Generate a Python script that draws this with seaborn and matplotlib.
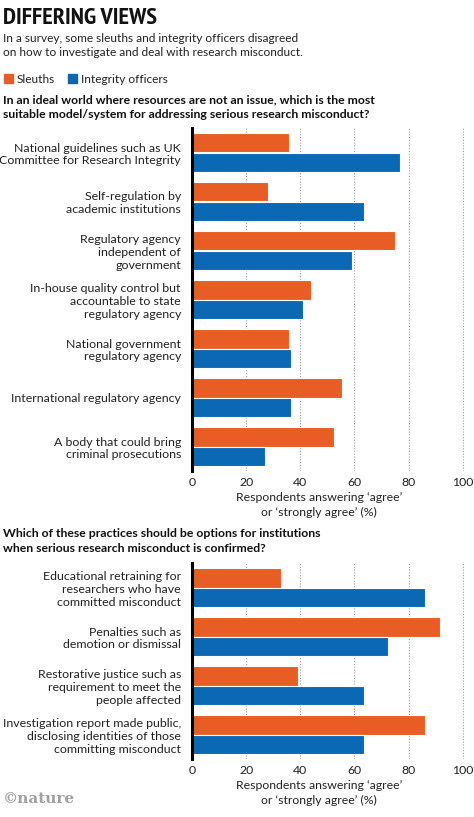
import pandas as pd
import matplotlib.pyplot as plt
import seaborn as sns
from matplotlib import font_manager

# data
q1_labels = [
    'National guidelines such as UK\nCommittee for Research Integrity',
    'Self-regulation by\nacademic institutions',
    'Regulatory agency\nindependent of\ngovernment',
    'In-house quality control but\naccountable to state\nregulatory agency',
    'National government\nregulatory agency',
    'International regulatory agency',
    'A body that could bring\ncriminal prosecutions',
]
q1_sleuths = [36, 28, 75, 44, 36, 55.5, 52.5]
q1_officers = [77, 63.5, 59, 41, 36.5, 36.5, 27]

q2_labels = [
    'Educational retraining for\nresearchers who have\ncommitted misconduct',
    'Penalties such as\ndemotion or dismissal',
    'Restorative justice such as\nrequirement to meet the\npeople affected',
    'Investigation report made public,\ndisclosing identities of those\ncommitting misconduct',
]
q2_sleuths = [33, 91.5, 39, 86]
q2_officers = [86, 72.5, 63.5, 63.5]

groups = ['Sleuths', 'Integrity officers']
palette = {'Sleuths': '#E85D24', 'Integrity officers': '#0B68B4'}
xticks = [0, 20, 40, 60, 80, 100]
xlabel = 'Respondents answering \u2018agree\u2019\nor \u2018strongly agree\u2019 (%)'

sns.set_style('white')
plt.rcParams['font.family'] = ['Lato', 'DejaVu Sans']
FS = 8.9


def condensed_title_font():
    # narrowest bold face we can find; the original uses a very condensed display font
    found = {}
    for f in font_manager.fontManager.ttflist:
        bold = f.weight in ('bold', 700, 'heavy', 800, 900, 'black')
        if not bold:
            continue
        if 'Narrow' in f.name:
            found.setdefault('narrow', f.fname)
        elif f.stretch in ('condensed', 'semi-condensed') or 'Condensed' in f.name:
            found.setdefault('condensed', f.fname)
    if 'narrow' in found:
        return font_manager.FontProperties(fname=found['narrow'], size=17.5)
    if 'condensed' in found:
        return font_manager.FontProperties(fname=found['condensed'], size=15)
    return font_manager.FontProperties(family=['Roboto', 'DejaVu Sans'], weight='bold', size=14)


def long_form(labels, sleuths, officers):
    rows = []
    for lab, s, o in zip(labels, sleuths, officers):
        rows.append({'item': lab, 'group': groups[0], 'pct': s})
        rows.append({'item': lab, 'group': groups[1], 'pct': o})
    return pd.DataFrame(rows)


def draw_panel(ax, df, n):
    sns.barplot(data=df, y='item', x='pct', hue='group', hue_order=groups,
                palette=palette, saturation=1, orient='h', width=0.8, ax=ax,
                edgecolor='white', linewidth=0.8, legend=False)
    ax.set_xlim(0, 102)
    ax.set_ylim(n - 0.5, -0.5)
    ax.set_xticks(xticks)
    ax.set_xticklabels([str(t) for t in xticks], fontsize=8.8, color='#222222')
    ax.tick_params(axis='x', length=0, pad=4)
    ax.tick_params(axis='y', which='major', length=0, pad=8, labelsize=FS, labelcolor='#222222')
    ax.set_yticks([i + 0.5 for i in range(n - 1)], minor=True)
    ax.tick_params(axis='y', which='minor', length=5, width=0.8, color='#555555')
    for t in ax.get_yticklabels():
        t.set_horizontalalignment('right')
        t.set_multialignment('right')
        t.set_linespacing(1.2)
    ax.grid(False)
    for x in xticks[1:]:
        ax.axvline(x, color='#999999', linestyle=(0, (1, 1.5)), linewidth=0.8, zorder=0)
    for side in ['top', 'right', 'bottom']:
        ax.spines[side].set_visible(False)
    ax.spines['left'].set_linewidth(2.2)
    ax.spines['left'].set_color('black')
    ax.spines['left'].set_zorder(5)
    ax.set_ylabel('')
    ax.set_xlabel(xlabel, fontsize=8.8, color='#222222', linespacing=1.4)
    ax.xaxis.label.set_verticalalignment('top')


W, H = 474, 817
fig = plt.figure(figsize=(W / 100, H / 100), dpi=100)

left = 192 / W
width = 102 * 2.707 / W
ax1 = fig.add_axes([left, 1 - 471 / H, width, 343 / H])
ax2 = fig.add_axes([left, 1 - 759 / H, width, 196 / H])

draw_panel(ax1, long_form(q1_labels, q1_sleuths, q1_officers), len(q1_labels))
draw_panel(ax2, long_form(q2_labels, q2_sleuths, q2_officers), len(q2_labels))
ax1.xaxis.set_label_coords(0.46, -21 / 343)
ax2.xaxis.set_label_coords(0.46, -21 / 196)

# header text
fig.text(3 / W, 1 - 8 / H, 'DIFFERING VIEWS', fontproperties=condensed_title_font(),
         va='top', ha='left', color='#111111')
fig.text(3 / W, 1 - 33 / H,
         'In a survey, some sleuths and integrity officers disagreed\n'
         'on how to investigate and deal with research misconduct.',
         fontsize=8.6, va='top', ha='left', color='#222222', linespacing=1.35)
fig.text(3 / W, 1 - 94 / H,
         'In an ideal world where resources are not an issue, which is the most\n'
         'suitable model/system for addressing serious research misconduct?',
         fontsize=8.8, fontweight='bold', va='top', ha='left', color='#111111', linespacing=1.4)
fig.text(3 / W, 1 - 528 / H,
         'Which of these practices should be options for institutions\n'
         'when serious research misconduct is confirmed?',
         fontsize=8.8, fontweight='bold', va='top', ha='left', color='#111111', linespacing=1.4)

handles = [plt.Rectangle((0, 0), 1, 1, color=palette[g]) for g in groups]
fig.legend(handles, groups, loc='upper left', bbox_to_anchor=(-1 / W, 1 - 69 / H),
           ncol=2, frameon=False, fontsize=8.6, handlelength=0.75, handleheight=0.75,
           handletextpad=0.35, columnspacing=1.1, borderaxespad=0, labelcolor='#222222')

fig.text(3 / W, 1 - 792 / H, '\u00a9nature', fontsize=11, fontweight='bold',
         family=['DejaVu Serif'], color='#a0a0a0', va='top', ha='left')

fig.savefig('out.png', dpi=100)
